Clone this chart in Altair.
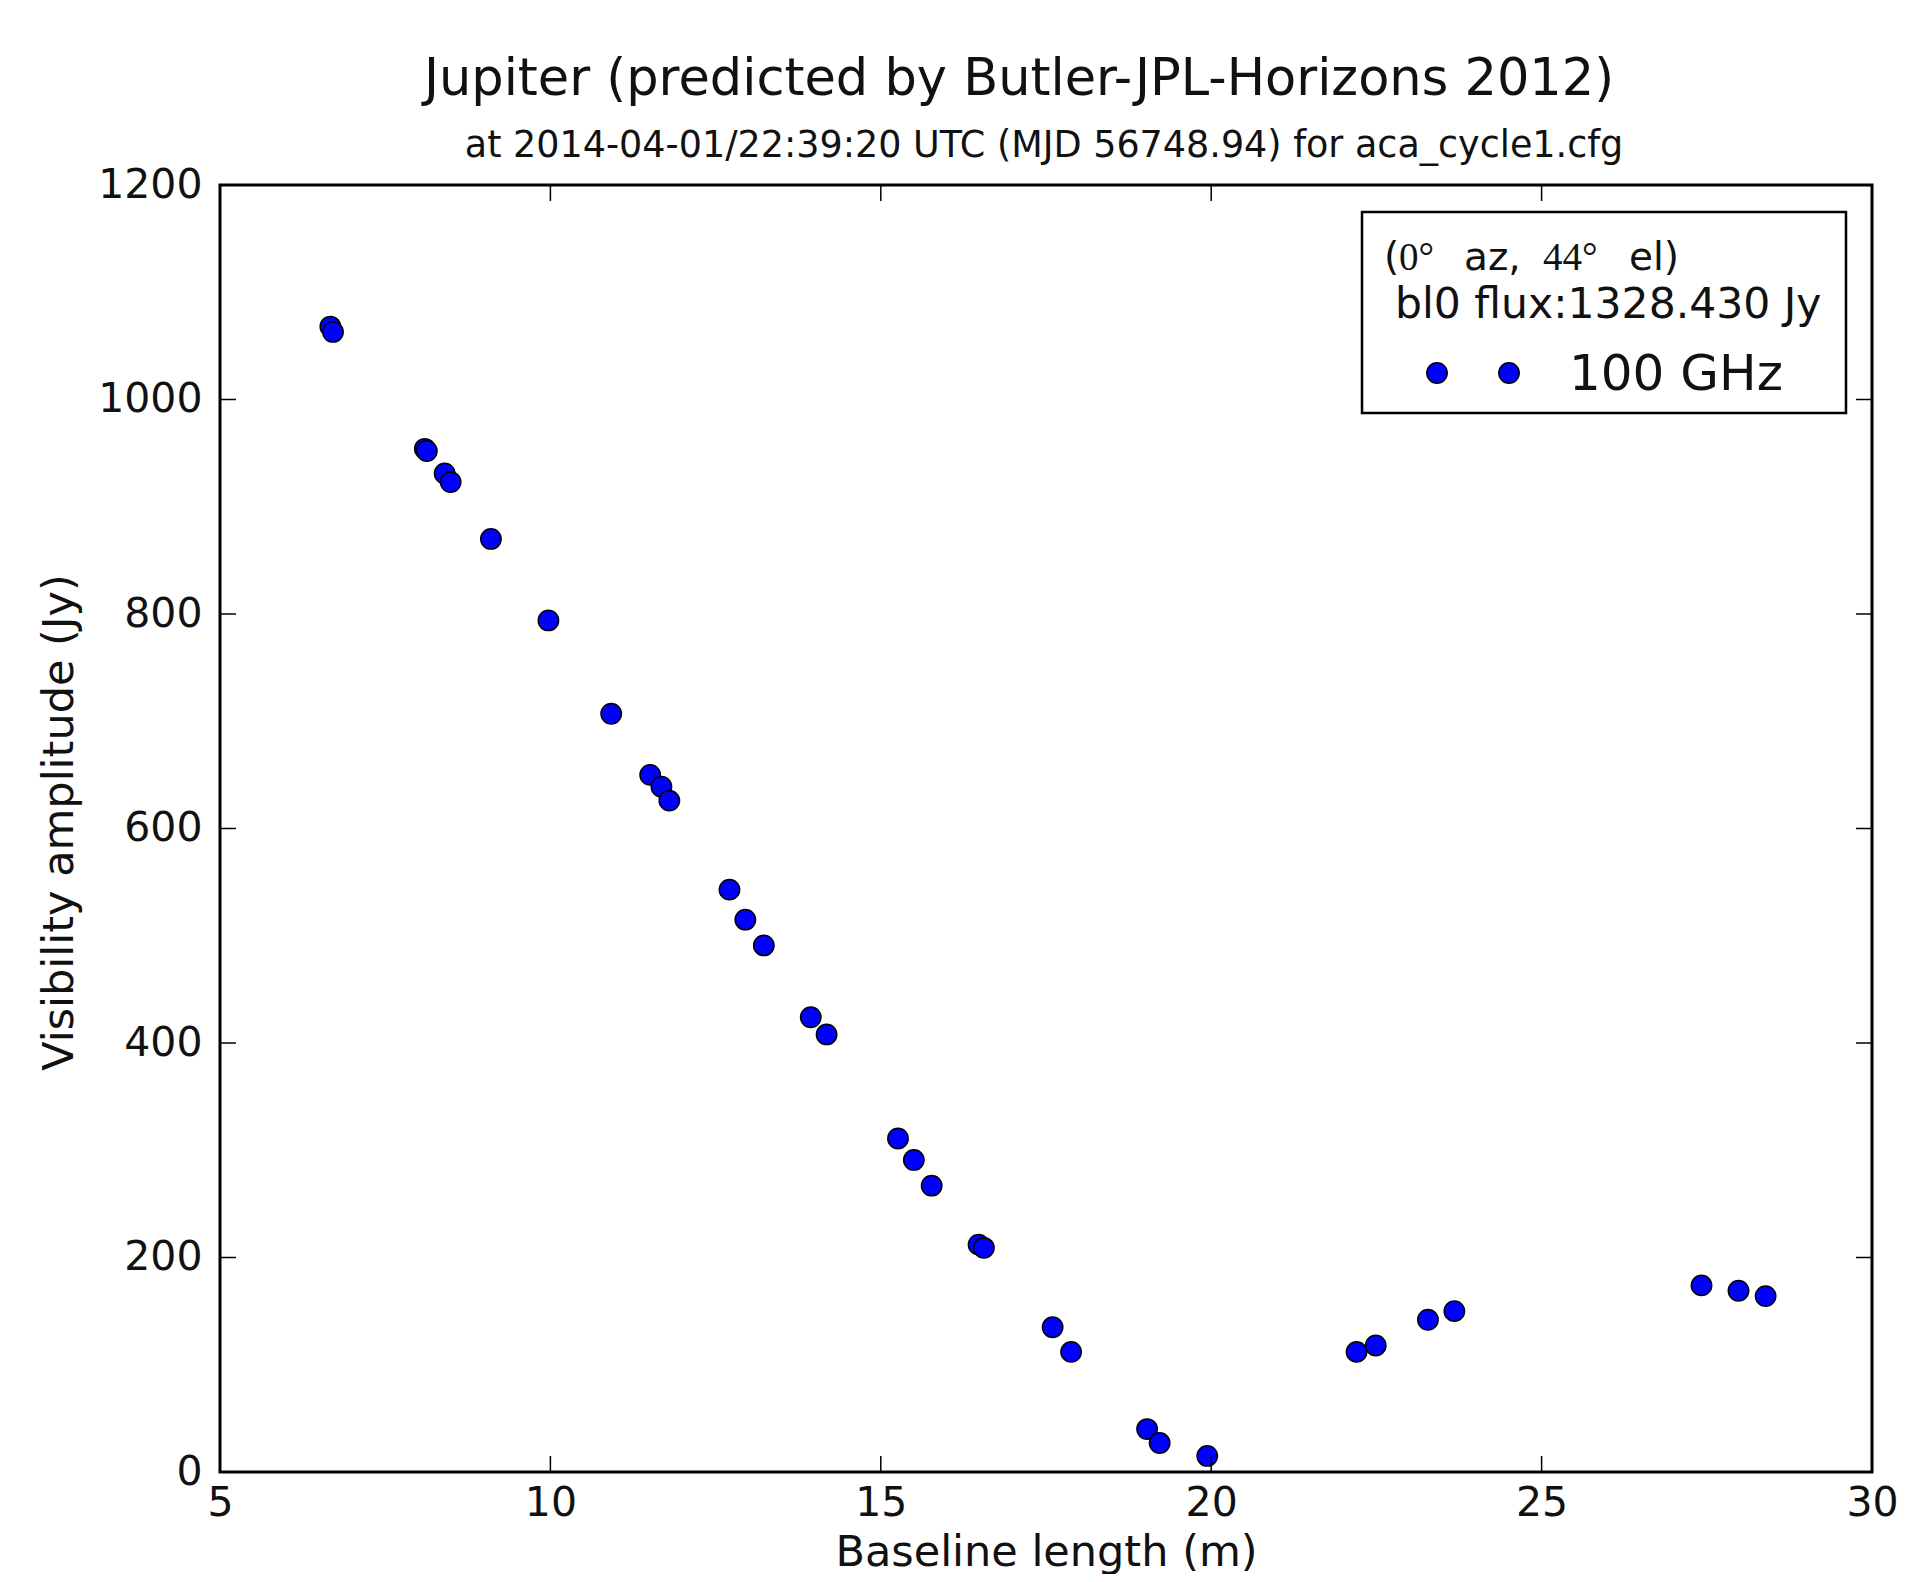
import altair as alt
import pandas as pd

# ---- data ----
baseline_m = [6.67, 6.71, 8.10, 8.13, 8.40, 8.49, 9.10, 9.97, 10.92, 11.51, 11.68, 11.80,
              12.71, 12.95, 13.23, 13.94, 14.18, 15.26, 15.50, 15.77, 16.48, 16.56,
              17.60, 17.88, 19.03, 19.22, 19.94, 22.20, 22.49, 23.28, 23.68,
              27.42, 27.98, 28.39]
amplitude_jy = [1068, 1063, 954, 952, 931, 923, 870, 794, 707, 650, 639, 626,
                543, 515, 491, 424, 408, 311, 291, 267, 212, 209,
                135, 112, 40, 27, 15, 112, 118, 142, 150,
                174, 169, 164]
x_ticks = [5, 10, 15, 20, 25, 30]
y_ticks = [0, 200, 400, 600, 800, 1000, 1200]

title_text = "Jupiter (predicted by Butler-JPL-Horizons 2012)"
subtitle_text = "at 2014-04-01/22:39:20 UTC (MJD 56748.94) for aca_cycle1.cfg"
legend_parts = ["(", "0°", "az,", "44°", "el)"]
legend_line2 = "bl0 flux:1328.430 Jy"
legend_label = "100 GHz"
x_title = "Baseline length (m)"
y_title = "Visibility amplitude (Jy)"

W, H = 1652, 1287
FONT = "DejaVu Sans"
SERIF = "Liberation Serif"

df = pd.DataFrame({"b": baseline_m, "a": amplitude_jy})
xscale = alt.Scale(domain=[5, 30], nice=False, zero=False)
yscale = alt.Scale(domain=[0, 1200], nice=False, zero=False)

x_axis = alt.Axis(
    values=x_ticks, title=x_title, format="d",
    labelFontSize=41, labelFont=FONT, labelColor="#111", labelPadding=11,
    labelFlush=False, ticks=False, domain=False, grid=False,
    titleFontSize=43, titleFont=FONT, titleFontWeight="normal", titleColor="#111",
    titleY=93, titleBaseline="alphabetic")
y_axis = alt.Axis(
    values=y_ticks, title=y_title, format="d",
    labelFontSize=41, labelFont=FONT, labelColor="#111", labelPadding=18,
    labelFlush=False, ticks=False, domain=False, grid=False,
    titleFontSize=43, titleFont=FONT, titleFontWeight="normal", titleColor="#111",
    titleAngle=270, titleX=-148, titleY=637, titleAlign="center",
    titleBaseline="alphabetic")

points = alt.Chart(df).mark_circle(
    size=415, color="#0000ff", fillOpacity=1, opacity=1, stroke="black", strokeWidth=1.5
).encode(
    x=alt.X("b:Q", scale=xscale, axis=x_axis),
    y=alt.Y("a:Q", scale=yscale, axis=y_axis),
)

TL = 16
xt = pd.DataFrame({"b": x_ticks})
yt = pd.DataFrame({"a": y_ticks})
tick_style = dict(color="black", strokeWidth=1.5)
xb = alt.Chart(xt).mark_rule(**tick_style).encode(
    x=alt.X("b:Q", scale=xscale, axis=x_axis), y=alt.value(H), y2=alt.value(H - TL))
xtop = alt.Chart(xt).mark_rule(**tick_style).encode(
    x=alt.X("b:Q", scale=xscale, axis=x_axis), y=alt.value(0), y2=alt.value(TL))
yl = alt.Chart(yt).mark_rule(**tick_style).encode(
    y=alt.Y("a:Q", scale=yscale, axis=y_axis), x=alt.value(0), x2=alt.value(TL))
yr = alt.Chart(yt).mark_rule(**tick_style).encode(
    y=alt.Y("a:Q", scale=yscale, axis=y_axis), x=alt.value(W - TL), x2=alt.value(W))


def text_layer(txt, x, y, size, font=FONT, align="left"):
    return alt.Chart(pd.DataFrame({"t": [txt]})).mark_text(
        font=font, fontSize=size, align=align, baseline="alphabetic", color="#111"
    ).encode(text="t:N", x=alt.value(x), y=alt.value(y))


title = text_layer(title_text, 799, -90, 51, align="center")
subtitle = text_layer(subtitle_text, 824, -28, 36.5, align="center")

legend_box = alt.Chart(pd.DataFrame({"t": [0]})).mark_rect(
    fill="white", stroke="black", strokeWidth=2.5
).encode(x=alt.value(1142), x2=alt.value(1626), y=alt.value(27), y2=alt.value(228))

leg1 = [
    text_layer(legend_parts[0], 1164, 85, 39),
    text_layer(legend_parts[1], 1179, 85, 39, font=SERIF),
    text_layer(legend_parts[2], 1244, 85, 39),
    text_layer(legend_parts[3], 1323, 85, 39, font=SERIF),
    text_layer(legend_parts[4], 1409, 85, 39),
]
leg2 = text_layer(legend_line2, 1175, 133, 42.5)
leg3 = text_layer(legend_label, 1349, 205, 50)


def legend_marker(x):
    return alt.Chart(pd.DataFrame({"t": [0]})).mark_circle(
        size=415, color="#0000ff", fillOpacity=1, opacity=1, stroke="black", strokeWidth=1.5
    ).encode(x=alt.value(x), y=alt.value(188))


chart = alt.layer(
    points, xb, xtop, yl, yr, title, subtitle, legend_box, *leg1, leg2, leg3,
    legend_marker(1217), legend_marker(1289)
).properties(
    width=W, height=H,
    autosize=alt.AutoSizeParams(type="none"),
    padding={"left": 212, "top": 177, "right": 31, "bottom": 102},
    background="white",
).configure_view(stroke="black", strokeWidth=3)

chart.save("out.html", embed_options={"renderer": "svg", "actions": False})
